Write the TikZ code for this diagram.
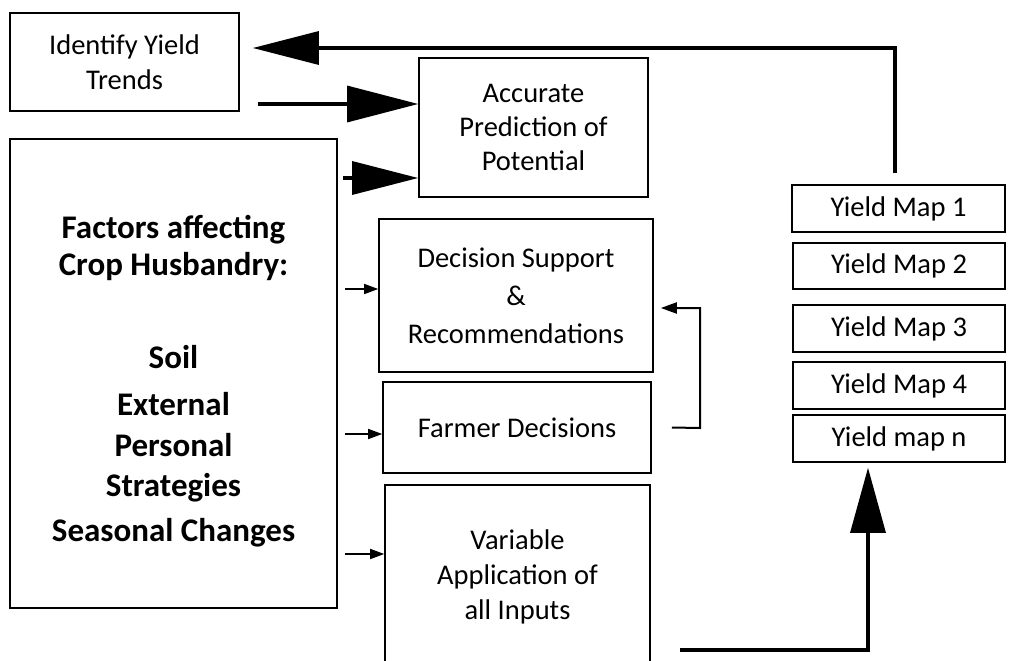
\documentclass[tikz,border=0pt]{standalone}
\usepackage{fontspec}
\setmainfont{Carlito}
\usetikzlibrary{arrows.meta,calc}
\begin{document}
\begin{tikzpicture}[x=1pt,y=-1pt,
  box/.style={draw,line width=1.6pt,inner sep=0pt,align=center,font=\fontsize{28.5}{34}\selectfont},
  bigarrow/.style={line width=3.2pt,-{Triangle[length=66pt,width=33pt]}},
  smallarrow/.style={line width=1.6pt,-{Triangle[length=14pt,width=10pt]}},
  fbline/.style={line width=2pt,-{Triangle[length=16pt,width=11pt]}}]
\useasboundingbox (0,0) rectangle (1015,661);
\clip (0,0) rectangle (1015,661);
\fill[white] (0,0) rectangle (1015,661);
% boxes
\node[box,font=\fontsize{28.5}{35}\selectfont,minimum width=229pt,minimum height=98pt] (ident) at (124.5,62) {Identify Yield\\Trends};
\node[box,minimum width=229pt,minimum height=139pt] (acc) at (533.5,127.5) {Accurate\\Prediction of\\Potential};
\node[box,minimum width=327pt,minimum height=469pt] (fac) at (173.5,373.5) {};
\node[align=center,inner sep=0pt,font=\fontsize{33}{37}\selectfont\bfseries] (factxt) at (173.5,381.5)
  {Factors affecting\\Crop Husbandry:\\[56pt]Soil\\[10pt]External\\[4pt]Personal\\[3pt]Strategies\\[8pt]Seasonal Changes};
\node[box,font=\fontsize{28.5}{38}\selectfont,minimum width=274pt,minimum height=153pt] (dec) at (516,295.5) {Decision Support\\\&\\Recommendations};
\node[box,minimum width=268pt,minimum height=91pt] (farmer) at (517,427.5) {Farmer Decisions};
\node[box,font=\fontsize{28.5}{35}\selectfont,minimum width=265pt,minimum height=183pt] (var) at (517.5,576.5) {Variable\\Application of\\all Inputs};
\node[box,minimum width=213pt,minimum height=47pt] (m1) at (898.5,208.5) {Yield Map 1};
\node[box,minimum width=212pt,minimum height=46pt] (m2) at (899,266) {Yield Map 2};
\node[box,minimum width=212pt,minimum height=47pt] (m3) at (899,328.5) {Yield Map 3};
\node[box,minimum width=212pt,minimum height=47pt] (m4) at (899,385.5) {Yield Map 4};
\node[box,minimum width=212pt,minimum height=47pt] (mn) at (899,438.5) {Yield map n};
% helper coordinates
\coordinate (ctop) at (895,48);
\coordinate (cia) at (239,104);
\coordinate (cfa) at (337,178);
\coordinate (cs1) at (337,289);
\coordinate (cs2) at (337,434);
\coordinate (cs3) at (337,554);
\coordinate (fbbot) at (700,428);
\coordinate (fbtop) at (700,308);
\coordinate (vstart) at (650,650);
\coordinate (vcorner) at (868,650);
% connectors
\draw[bigarrow,shorten >=13pt,shorten <=11pt,line join=miter] (ctop |- m1.north) -- (ctop) -- (ident.east |- ctop);
\draw[bigarrow,-{Triangle[length=71pt,width=36pt]},shorten <=19pt] (cia) -- (acc.west |- cia);
\draw[bigarrow,shorten <=6pt] (cfa) -- (acc.west |- cfa);
\draw[smallarrow,shorten <=8pt] (cs1) -- (dec.west |- cs1);
\draw[smallarrow,shorten <=8pt] (cs2) -- (farmer.west |- cs2);
\draw[smallarrow,shorten <=8pt] (cs3) -- (var.west |- cs3);
\draw[fbline,shorten >=7pt] ($(farmer.east)+(20,0)$) -- (fbbot) -- (fbtop) -- (dec.east |- fbtop);
\draw[bigarrow,-{Triangle[length=65pt,width=35pt]},shorten >=5pt,line join=miter] ($(vstart)+(30,0)$) -- (vcorner) -- (vcorner |- mn.south);
\end{tikzpicture}
\end{document}
